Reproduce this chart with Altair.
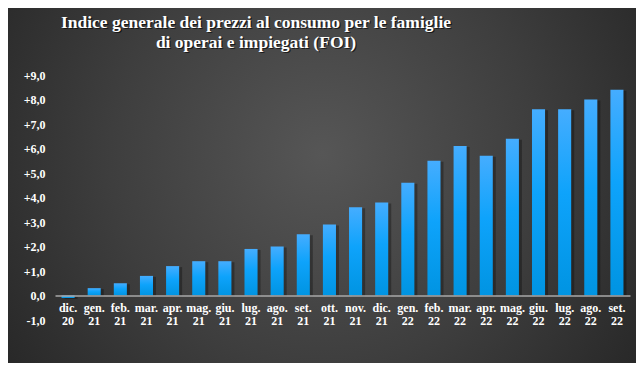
import altair as alt
import pandas as pd

months = ["dic. 20", "gen. 21", "feb. 21", "mar. 21", "apr. 21", "mag. 21", "giu. 21",
          "lug. 21", "ago. 21", "set. 21", "ott. 21", "nov. 21", "dic. 21", "gen. 22",
          "feb. 22", "mar. 22", "apr. 22", "mag. 22", "giu. 22", "lug. 22", "ago. 22", "set. 22"]
values = [-0.1, 0.3, 0.5, 0.8, 1.2, 1.4, 1.4, 1.9, 2.0, 2.5, 2.9, 3.6, 3.8, 4.6,
          5.5, 6.1, 5.7, 6.4, 7.6, 7.6, 8.0, 8.4]
title_lines = ["Indice generale dei prezzi al consumo per le famiglie",
               "di operai e impiegati (FOI)"]

df = pd.DataFrame({"mese": months, "valore": values})

W, H = 575, 245
PL, PT, PR, PB = 47, 67, 6, 43
FONT = "Liberation Serif, Times New Roman, serif"

bg_grad = alt.Gradient(
    gradient="radial",
    x1=0.5, y1=0.45, r1=0.0,
    x2=0.5, y2=0.45, r2=0.75,
    stops=[alt.GradientStop(offset=0, color="#565656"),
           alt.GradientStop(offset=0.45, color="#3e3e3e"),
           alt.GradientStop(offset=1, color="#1c1c1c")],
)
bar_grad = alt.Gradient(
    gradient="linear", x1=0, y1=0, x2=0, y2=1,
    stops=[alt.GradientStop(offset=0, color="#45adff"),
           alt.GradientStop(offset=0.45, color="#0ea3fb"),
           alt.GradientStop(offset=1, color="#0094e2")],
)

one = pd.DataFrame({"a": [0]})
bg = alt.Chart(one).mark_rect(fill=bg_grad, strokeWidth=0).encode(
    x=alt.value(-PL), x2=alt.value(W + PR), y=alt.value(-PT), y2=alt.value(H + PB)
)

title_shadow = alt.Chart(one).mark_text(
    text=title_lines, font=FONT, fontSize=17.5, fontWeight="bold", color="#000000",
    opacity=0.6, align="center", baseline="alphabetic", lineHeight=20, dx=1.2, dy=1.2,
).encode(x=alt.value(201), y=alt.value(-47))
title_txt = alt.Chart(one).mark_text(
    text=title_lines, font=FONT, fontSize=17.5, fontWeight="bold", color="#ffffff",
    align="center", baseline="alphabetic", lineHeight=20,
).encode(x=alt.value(201), y=alt.value(-47))

x_enc = alt.X(
    "mese:N", sort=months, title=None,
    scale=alt.Scale(paddingInner=0.5, paddingOuter=0.25),
    axis=alt.Axis(
        labelAngle=0, labelExpr="split(datum.label, ' ')", labelFont=FONT,
        labelFontSize=12, labelFontWeight="bold", labelColor="#ffffff", labelLineHeight=13,
        labelPadding=7, ticks=False, domainColor="#a8a8a8", domainWidth=1.5,
        offset=-H / 10, labelBaseline="top", zindex=1,
    ),
)
y_enc = alt.Y(
    "valore:Q", title=None,
    scale=alt.Scale(domain=[-1, 9], nice=False),
    axis=alt.Axis(
        values=list(range(-1, 10)), grid=False, domain=False, ticks=False,
        labelExpr="(datum.value > 0 ? '+' : '') + replace(replace(format(datum.value, '.1f'), '.', ','), '\u2212', '-')",
        labelFont=FONT, labelFontSize=12, labelFontWeight="bold",
        labelColor="#ffffff", labelPadding=10, zindex=1,
    ),
)

shadow = alt.Chart(df).mark_bar(color="#000000", opacity=0.3, xOffset=3, yOffset=1).encode(
    x=x_enc, y=y_enc
)
bars = alt.Chart(df).mark_bar(fill=bar_grad).encode(x=x_enc, y=y_enc)

chart = alt.layer(bg, title_shadow, title_txt, shadow, bars).properties(
    width=W, height=H,
    autosize=alt.AutoSizeParams(type="none"),
    padding={"left": PL, "top": PT, "right": PR, "bottom": PB},
).configure_view(stroke=None).configure(background="#2a2a2a")

chart.save("out.html", embed_options={"renderer": "svg", "actions": False})
